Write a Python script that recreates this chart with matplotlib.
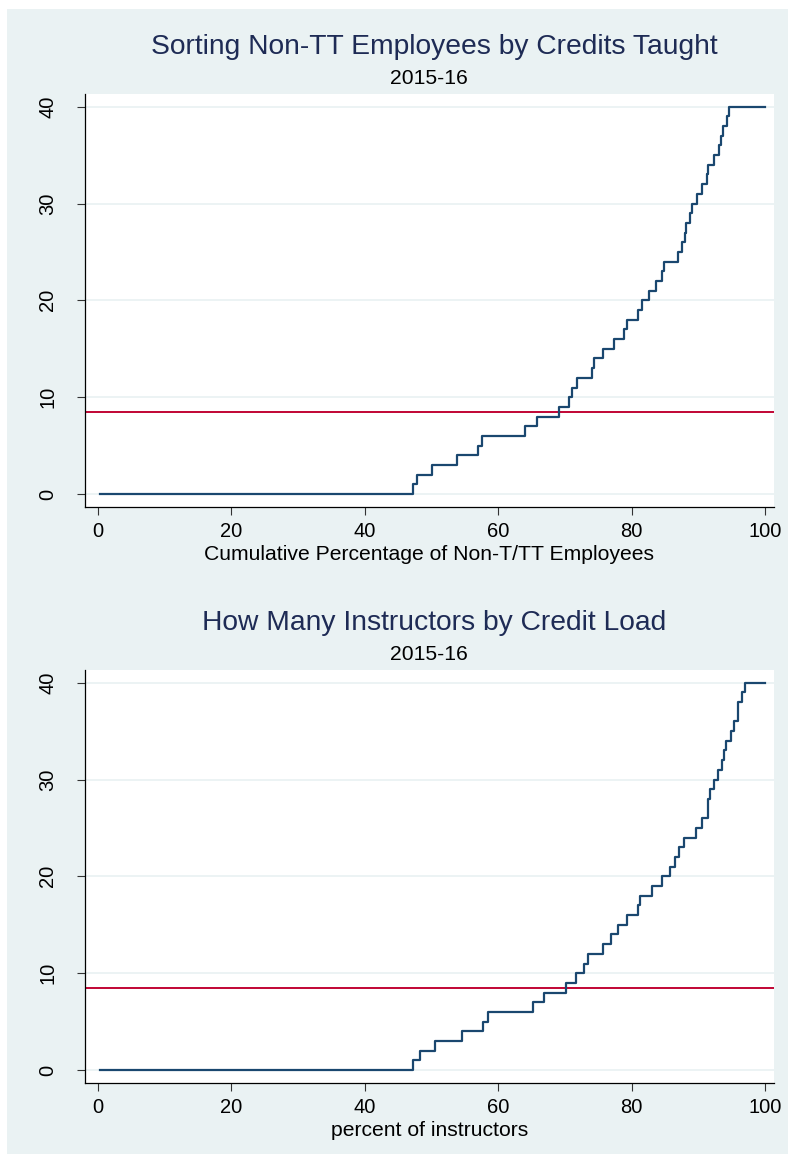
import matplotlib
matplotlib.use('Agg')
import matplotlib.pyplot as plt
from matplotlib.patches import Rectangle

plt.rcParams['font.family'] = ['Liberation Sans', 'DejaVu Sans']

#######################################	DATA	#################################################
# top chart: cumulative percent where each credit level starts
top_pct = [0.3, 47.2, 47.8, 50.1, 53.8, 57.0, 57.6, 64.0, 65.8, 69.1, 70.6, 71.0, 71.8,
           74.1, 74.4, 75.7, 77.3, 78.9, 79.3, 80.9, 81.6, 82.6, 83.7, 84.6, 84.9,
           87.0, 87.6, 88.0, 88.2, 88.8, 89.1, 89.8, 90.5, 91.3, 91.5, 92.3, 93.1,
           93.4, 93.7, 94.3, 94.6, 100]
top_credits = [0, 1, 2, 3, 4, 5, 6, 7, 8, 9, 10, 11, 12, 13, 14, 15, 16, 17, 18, 19, 20,
               21, 22, 23, 24, 25, 26, 27, 28, 29, 30, 31, 32, 33, 34, 35, 36, 37, 38,
               39, 40, 40]

# bottom chart
bot_pct = [0.3, 47.2, 48.3, 50.5, 54.6, 57.7, 58.4, 65.2, 66.9, 70.2, 71.7, 72.9, 73.5,
           75.7, 76.9, 77.9, 79.3, 80.9, 81.3, 83.1, 84.6, 85.7, 86.5, 87.1, 87.8,
           89.7, 90.6, 91.4, 91.5, 91.8, 92.4, 93.0, 93.5, 93.9, 94.2, 94.9, 95.4,
           95.9, 96.0, 96.6, 97.0, 100]
bot_credits = top_credits

mean_credits = 8.45

titles = ['Sorting Non-TT Employees by Credits Taught', 'How Many Instructors by Credit Load']
subtitle = '2015-16'
xlabels = ['Cumulative Percentage of Non-T/TT Employees', 'percent of instructors']
xticks = [0, 20, 40, 60, 80, 100]
yticks = [0, 10, 20, 30, 40]

#######################################	STYLE	#################################################
BG = '#eaf2f3'
NAVY = '#1a476f'
RED = '#c10534'
TITLE_C = '#1e2b55'

W, H = 788, 1154
fig = plt.figure(figsize=(W / 100, H / 100), dpi=100)
fig.patch.set_facecolor('white')
# stata graph region
fig.patches.append(Rectangle((7 / W, 0), 1, 1 - 9 / H, transform=fig.transFigure,
                             facecolor=BG, edgecolor='none', zorder=-10))

def draw_panel(top_px, pct, credits, title, xlabel):
	left, right, bottom = 85, 774, top_px + 413
	ax = fig.add_axes([left / W, 1 - bottom / H, (right - left) / W, 413 / H])
	ax.set_facecolor('white')
	ax.step(pct, credits, where='post', color=NAVY, lw=1.6, zorder=3)
	ax.axhline(mean_credits, color=RED, lw=1.4, zorder=2)

	ax.set_xlim(-1.95, 101.35)
	ax.set_ylim(-1.34, 41.31)
	ax.set_xticks(xticks)
	ax.set_yticks(yticks)
	ax.set_yticklabels([str(v) for v in yticks], rotation=90, va='center')
	ax.grid(axis='y', color=BG, lw=1.3, zorder=0)
	ax.tick_params(axis='both', direction='out', length=5.8, width=0.8, color='#333333',
	               labelsize=14.5, colors='black')
	ax.tick_params(axis='y', pad=14)
	ax.tick_params(axis='x', pad=5)
	for s in ['top', 'right']:
		ax.spines[s].set_visible(False)
	for s in ['left', 'bottom']:
		ax.spines[s].set_color('black')
		ax.spines[s].set_linewidth(0.9)
	ax.set_xlabel(xlabel, fontsize=15.2, labelpad=3)

	fig.text(434 / W, 1 - (top_px - 47) / H, title, ha='center', va='center',
	         fontsize=20.3, color=TITLE_C)
	fig.text(429 / W, 1 - (top_px - 16) / H, subtitle, ha='center', va='center',
	         fontsize=15.2, color='black')
	return ax

draw_panel(94, top_pct, top_credits, titles[0], xlabels[0])
draw_panel(670, bot_pct, bot_credits, titles[1], xlabels[1])

fig.savefig('out.png', dpi=100, facecolor=fig.get_facecolor())
